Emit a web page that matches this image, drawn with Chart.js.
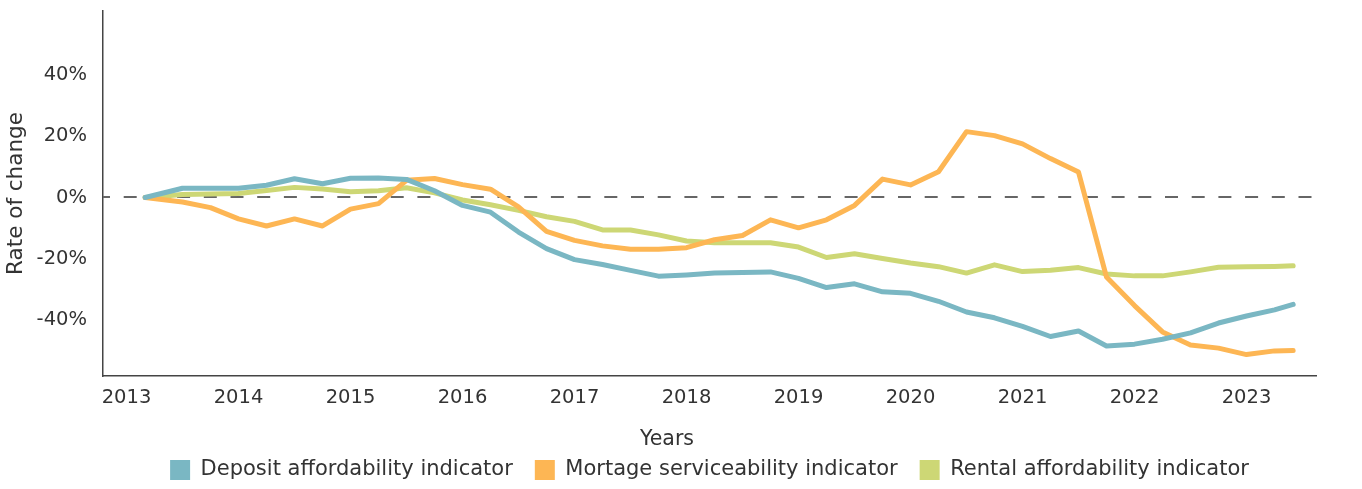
<!DOCTYPE html>
<html><head><meta charset="utf-8">
<script src="https://cdn.jsdelivr.net/npm/chart.js@4/dist/chart.umd.min.js"></script>
<style>html,body{margin:0;padding:0;background:#fff;}#wrap{width:1362px;height:489px;}</style>
</head><body><div id="wrap"><canvas id="c" width="1362" height="489"></canvas></div>
<script>
// quarter dates (YYYY-MM)
const dates = ['2013-03','2013-07','2013-10','2014-01','2014-04','2014-07','2014-10',
  '2015-01','2015-04','2015-07','2015-10','2016-01','2016-04','2016-07','2016-10',
  '2017-01','2017-04','2017-07','2017-10','2018-01','2018-04','2018-07','2018-10',
  '2019-01','2019-04','2019-07','2019-10','2020-01','2020-04','2020-07','2020-10',
  '2021-01','2021-04','2021-07','2021-10','2022-01','2022-04','2022-07','2022-10',
  '2023-01','2023-04','2023-06'];
const deposit = [0, 3.0, 3.0, 3.0, 4.0, 6.1, 4.5, 6.3, 6.4, 5.9,
  2.2, -2.6, -4.8, -11.3, -16.7, -20.3, -21.9, -23.8, -25.7, -25.3,
  -24.7, -24.5, -24.3, -26.4, -29.4, -28.2, -30.8, -31.3, -33.9, -37.4,
  -39.3, -42.1, -45.4, -43.6, -48.5, -47.9, -46.3, -44.2, -41.0, -38.7,
  -36.7, -34.9];
const mortgage = [0, -1.5, -3.3, -7.0, -9.3, -7.0, -9.3, -3.8, -2.0, 5.6,
  6.2, 4.2, 2.7, -3.1, -11.1, -14.0, -15.8, -16.9, -16.9, -16.4,
  -13.8, -12.4, -7.3, -9.9, -7.3, -2.6, 6.0, 4.1, 8.4, 21.5,
  20.2, 17.5, 12.7, 8.3, -26.0, -35.3, -43.9, -48.2, -49.2, -51.3,
  -50.1, -50.0];
const rental = [0, 1.0, 1.1, 1.3, 2.3, 3.3, 2.8, 1.9, 2.2, 3.2,
  1.5, -0.8, -2.4, -4.2, -6.3, -7.8, -10.6, -10.6, -12.2, -14.2,
  -14.8, -14.8, -14.8, -16.2, -19.6, -18.4, -19.9, -21.4, -22.6, -24.7,
  -22.0, -24.2, -23.8, -22.9, -25.0, -25.6, -25.6, -24.3, -22.8, -22.6,
  -22.5, -22.3];
const yearTicks = [2013,2014,2015,2016,2017,2018,2019,2020,2021,2022,2023];
const yTicks = [-40,-20,0,20,40];
const seriesNames = ['Deposit affordability indicator','Mortage serviceability indicator','Rental affordability indicator'];
const colors = ['#7ab7c3','#fdb654','#cdd775'];

const FONT = 'DejaVu Sans';
const TXT = '#333333';
function toYear(s){const p=s.split('-').map(Number);return p[0]+(p[1]-1)/12;}
const xs = dates.map(toYear);
const pts = arr => arr.map((v,i)=>({x:xs[i],y:v}));

const zeroLine = {
  id:'zeroLine',
  beforeDatasetsDraw(chart){
    const {ctx, chartArea:a, scales:{y}} = chart;
    const py = Math.round(y.getPixelForValue(0));
    ctx.save();
    ctx.strokeStyle = '#666666'; ctx.lineWidth = 2;
    ctx.setLineDash([13,13.7]); ctx.lineDashOffset = 6;
    ctx.beginPath(); ctx.moveTo(a.left, py); ctx.lineTo(a.right, py); ctx.stroke();
    ctx.restore();
  }
};

const seriesData = [deposit, mortgage, rental];
new Chart(document.getElementById('c'), {
  type:'line',
  data:{ datasets: seriesData.map((d,i)=>({
    label: seriesNames[i], data: pts(d), borderColor: colors[i], backgroundColor: colors[i],
    borderWidth:5, pointRadius:0, tension:0, borderCapStyle:'round', borderJoinStyle:'round', fill:false
  }))},
  options:{
    responsive:false, animation:false, devicePixelRatio:1,
    layout:{padding:{left:18, top:11, right:46, bottom:-1.5}},
    plugins:{
      tooltip:{enabled:false},
      title:{display:true, position:'bottom', weight:500, text:'Years', color:TXT,
        font:{family:FONT, size:20.5, weight:'normal'}, padding:{top:0, bottom:-14.8}},
      legend:{position:'bottom', fullSize:false, weight:1000,
        labels:{boxWidth:20, boxHeight:20, padding:22, color:TXT, font:{family:FONT, size:21},
          generateLabels(chart){
            return chart.data.datasets.map((ds,i)=>({text:ds.label, fillStyle:ds.borderColor, strokeStyle:ds.borderColor, lineWidth:0, hidden:false, datasetIndex:i, fontColor:TXT}));
          }}}
    },
    scales:{
      x:{type:'linear', min:2012.7902, max:2023.6205,
        afterBuildTicks:s=>{ s.ticks = yearTicks.map(v=>({value:v})); },
        afterFit:s=>{ s.height = 51.7; },
        ticks:{callback:v=>String(v), color:TXT, font:{family:FONT, size:19.5}, padding:10, maxRotation:0, autoSkip:false},
        grid:{display:false, drawTicks:false},
        border:{display:true, color:'#444444', width:1.5}
      },
      y:{min:-58.3, max:60.9,
        afterBuildTicks:s=>{ s.ticks = yTicks.map(v=>({value:v})); },
        afterFit:s=>{ s.width = 85; s.paddingTop = 0; s.paddingBottom = 0; },
        ticks:{callback:v=>v+'%', color:TXT, font:{family:FONT, size:19.5}, padding:16},
        grid:{display:false, drawTicks:false},
        border:{display:true, color:'#444444', width:1.5},
        title:{display:true, text:'Rate of change', color:TXT, font:{family:FONT, size:21.5}, padding:{top:-14.2, bottom:0}}
      }
    }
  },
  plugins:[zeroLine]
});
</script></body></html>
